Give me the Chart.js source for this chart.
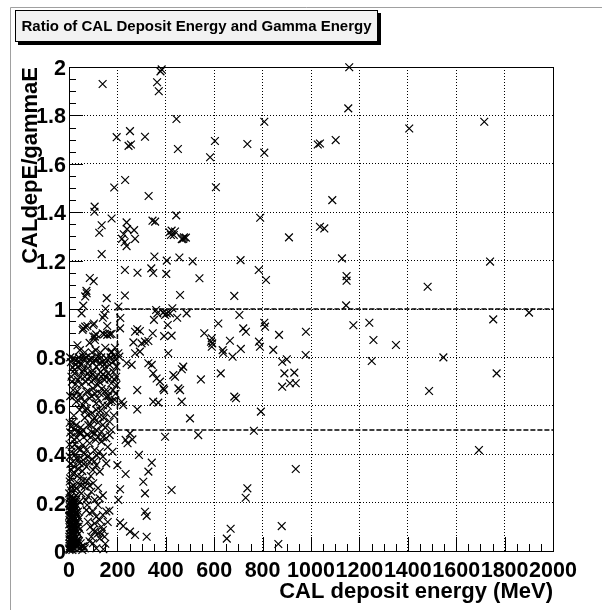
<!DOCTYPE html>
<html>
<head>
<meta charset="utf-8">
<script src="https://cdn.jsdelivr.net/npm/chart.js@4.4.1/dist/chart.umd.min.js"></script>
<style>
html,body{margin:0;padding:0;background:#fff;}
#wrap{width:602px;height:610px;}
canvas{display:block;}
</style>
</head>
<body>
<div id="wrap"><canvas id="c" width="602" height="610"></canvas></div>
<script>
// ---------- text ----------
const chartTitle = "Ratio of CAL Deposit Energy and Gamma Energy";
const xAxisTitle = "CAL deposit energy (MeV)";
const yAxisTitle = "CALdepE/gammaE";

// ---------- ticks ----------
const xTickValues = [0, 200, 400, 600, 800, 1000, 1200, 1400, 1600, 1800, 2000];
const xTickLabels = ["0", "200", "400", "600", "800", "1000", "1200", "1400", "1600", "1800", "2000"];
const yTickValues = [0, 0.2, 0.4, 0.6, 0.8, 1, 1.2, 1.4, 1.6, 1.8, 2];
const yTickLabels = ["0", "0.2", "0.4", "0.6", "0.8", "1", "1.2", "1.4", "1.6", "1.8", "2"];

// ---------- cut lines (dashed) ----------
const cutVerticalX = [200, 200];
const cutVerticalY = [0.5, 1];
const cutUpperX = [200, 2000];
const cutUpperY = [1, 1];
const cutLowerX = [200, 2000];
const cutLowerY = [0.5, 0.5];

// ---------- data: [CAL deposit energy (MeV), CALdepE/gammaE] ----------
const highRatioPoints = [
[139,1.93],[383,1.99],[378,1.982],[364,1.937],[371,1.9],[444,1.785],[197,1.71],[252,1.735],[246,1.674],[256,1.68],
[314,1.712],[450,1.661],[187,1.502],[232,1.533],[329,1.467],[106,1.423],[105,1.402],[135,1.346],[125,1.315],[176,1.374],
[238,1.358],[219,1.29],[226,1.309],[230,1.276],[238,1.26],[240,1.33],[269,1.326],[273,1.29],[345,1.365],[356,1.361],
[443,1.387],[415,1.317],[424,1.324],[433,1.306],[421,1.306],[438,1.32],[472,1.29],[483,1.295],[135,1.227],[353,1.217],
[404,1.2],[456,1.213],[511,1.197],[231,1.161],[283,1.15],[340,1.168],[348,1.149],[402,1.145],[539,1.127],[86,1.128],
[102,1.115],[72,1.075],[73,1.065],[67,1.052],[59,1.014],[52,0.982],[156,1.045],[231,1.056],[459,1.058],[151,1.001],
[146,0.975],[140,0.964],[204,1.01],[212,0.963],[360,0.996],[365,0.982],[390,0.986],[404,0.982],[397,0.975],[427,1.003],
[417,0.982],[447,0.964],[486,0.982],[351,0.955],[408,0.934]
];

const highEnergyPoints = [
[1158,1.999],[1154,1.829],[807,1.774],[603,1.694],[737,1.682],[583,1.627],[807,1.646],[1028,1.68],[1037,1.684],[1102,1.698],
[607,1.503],[1088,1.45],[790,1.377],[1037,1.34],[1055,1.333],[909,1.296],[475,1.296],[466,1.289],[709,1.202],[1128,1.209],
[784,1.161],[814,1.12],[1147,1.136],[1147,1.117],[683,1.054],[1145,1.015],[1406,1.746],[1716,1.774],[1740,1.196],[1482,1.092],
[704,0.975],[617,0.94],[720,0.92],[731,0.906],[807,0.943],[810,0.927],[559,0.9],[590,0.879],[587,0.865],[592,0.858],
[590,0.844],[665,0.869],[868,0.893],[979,0.906],[785,0.865],[789,0.844],[635,0.83],[638,0.818],[710,0.835],[844,0.831],
[676,0.803],[978,0.81],[881,0.782],[900,0.792],[890,0.734],[931,0.737],[881,0.679],[913,0.693],[937,0.693],[627,0.734],
[545,0.709],[683,0.638],[690,0.631],[793,0.576],[500,0.548],[764,0.497],[534,0.479],[937,0.339],[737,0.259],[730,0.22],
[668,0.092],[652,0.051],[879,0.103],[865,0.029],
[1175,0.933],[1241,0.943],[1258,0.872],[1251,0.785],[1351,0.851],[1753,0.957],[1901,0.985],[1547,0.8],[1767,0.734],[1488,0.661],[1694,0.417]
];

const midEnergyPoints = [
[282,0.916],[293,0.909],[273,0.906],[346,0.9],[393,0.888],[424,0.89],[211,0.92],[266,0.862],[300,0.858],[314,0.865],
[328,0.868],[293,0.824],[273,0.817],[410,0.817],[204,0.817],[208,0.803],[328,0.776],[342,0.769],[348,0.734],[362,0.713],
[376,0.7],[390,0.672],[238,0.776],[259,0.769],[431,0.727],[438,0.72],[472,0.762],[466,0.751],[452,0.672],[459,0.665],
[282,0.665],[393,0.665],[218,0.617],[224,0.603],[282,0.585],[348,0.617],[369,0.613],[466,0.617],[252,0.486],[234,0.459],
[262,0.461],[242,0.445],[397,0.472],[289,0.397],[342,0.365],[328,0.328],[200,0.355],[234,0.318],[307,0.286],[314,0.238],
[211,0.255],[204,0.211],[424,0.252],[314,0.162],[321,0.145],[211,0.117],[224,0.103],[252,0.08],[273,0.066],[321,0.059]
];

const lowEnergyUpperPoints = [
[59,0.92],[67,0.927],[76,0.93],[103,0.94],[158,0.93],[112,0.895],[107,0.886],[139,0.9],[158,0.893],[176,0.897],
[56,0.913],[100,0.934],[145,0.895],[169,0.895],[100,0.886],[107,0.872],[176,0.824],
[17,0.796],[30,0.789],[44,0.782],[58,0.803],[78,0.775],[92,0.796],[106,0.789],[120,0.803],[127,0.775],
[140,0.782],[154,0.796],[168,0.769],[182,0.782],[189,0.803],[37,0.762],[78,0.755],[113,0.762],[147,0.755],[23,0.748],
[196,0.762],[5,0.8],[65,0.82],[110,0.83],[150,0.84],[35,0.85],[85,0.86],[175,0.82],
[10,0.72],[23,0.734],[37,0.707],[51,0.686],[65,0.72],[78,0.734],[92,0.7],[106,0.71],[120,0.686],[134,0.72],
[147,0.707],[161,0.734],[175,0.693],[189,0.707],[17,0.665],[44,0.645],[72,0.658],[99,0.672],[127,0.652],[154,0.638],
[182,0.665],[30,0.617],[58,0.603],[85,0.631],[113,0.61],[140,0.603],[168,0.617],[189,0.624],[196,0.686],[5,0.64],
[160,0.66],[100,0.745],[60,0.75],[130,0.74],
[8,0.78],[15,0.76],[27,0.77],[40,0.8],[50,0.77],[62,0.79],[70,0.8],[85,0.79],[98,0.78],[116,0.79],
[133,0.8],[145,0.77],[160,0.79],[172,0.8],[193,0.79],[12,0.7],[28,0.69],[45,0.72],[55,0.74],[70,0.7],
[85,0.72],[97,0.73],[112,0.72],[125,0.7],[140,0.73],[152,0.72],[168,0.71],[183,0.74],[195,0.72],[20,0.64],
[35,0.66],[50,0.63],[65,0.62],[80,0.66],[93,0.64],[108,0.65],[120,0.63],[135,0.67],[148,0.66],[163,0.64],
[178,0.62],[192,0.65],[45,0.83],[95,0.82],[130,0.82],[190,0.84]
];

const lowEnergyMiddlePoints = [
[10,0.514],[23,0.5],[37,0.493],[51,0.486],[58,0.5],[78,0.562],[99,0.541],[113,0.583],[127,0.555],[140,0.521],
[154,0.569],[168,0.534],[113,0.5],[134,0.493],[44,0.583],[72,0.59],[3,0.53],[185,0.56],[90,0.52],[160,0.6],[20,0.56],
[15,0.53],[30,0.52],[48,0.51],[65,0.55],[80,0.52],[95,0.57],[105,0.55],[120,0.53],[130,0.58],[145,0.55],
[60,0.47],[75,0.48],[95,0.49],[110,0.46],[140,0.47],[150,0.51],[175,0.5],[30,0.47],[5,0.49],[70,0.58],
[10,0.472],[23,0.459],[37,0.424],[58,0.438],[72,0.417],[85,0.445],[106,0.486],[120,0.472],[134,0.452],[154,0.466],
[168,0.479],[106,0.417],[127,0.41],[10,0.41],[44,0.49],[160,0.43],[2,0.44],[90,0.47],[180,0.41],
[3,0.39],[17,0.369],[30,0.383],[44,0.362],[58,0.376],[72,0.348],[85,0.369],[99,0.335],[113,0.355],[127,0.328],
[23,0.321],[51,0.307],[10,0.335],[154,0.362],[140,0.39],[65,0.4],[37,0.34],[90,0.31],[6,0.36],[115,0.395],
[5,0.3],[14,0.32],[20,0.35],[27,0.4],[34,0.31],[40,0.38],[48,0.42],[55,0.33],[62,0.36],[78,0.39],
[95,0.38],[105,0.37],[12,0.43],[25,0.44],[50,0.27],[18,0.27],[30,0.26],[75,0.29],[100,0.28],[8,0.25],
[3,0.287],[10,0.266],[23,0.252],[37,0.28],[51,0.238],[65,0.266],[78,0.225],[92,0.245],[106,0.211],[127,0.218],
[17,0.218],[44,0.204],[1,0.238],[58,0.29],[85,0.27],[120,0.26],[140,0.23],[30,0.23],[70,0.21]
];

const lowEnergyLowPoints = [
[2,0.004],[5,0.011],[9,0.018],[14,0.004],[19,0.025],[3,0.032],[8,0.04],[12,0.045],[17,0.052],[23,0.011],
[28,0.03],[1,0.059],[6,0.066],[11,0.073],[15,0.08],[21,0.062],[26,0.087],[33,0.018],[37,0.045],[4,0.094],
[9,0.1],[13,0.107],[18,0.114],[24,0.1],[30,0.121],[2,0.128],[7,0.135],[12,0.142],[16,0.149],[22,0.128],
[27,0.156],[35,0.1],[40,0.07],[4,0.163],[10,0.169],[14,0.176],[19,0.183],[25,0.169],[31,0.19],[1,0.197],
[6,0.204],[11,0.19],[17,0.211],[23,0.2],[3,0.218],[8,0.225],[44,0.011],[48,0.032],[52,0.018],[42,0.135],
[38,0.163],[29,0.211],[1,0.145],[3,0.07],[6,0.125],[10,0.05],[20,0.14],[15,0.03],[34,0.15],[45,0.09],
[55,0.004],[60,0.02],[7,0.17],[26,0.12],[16,0.09],
[0,0.01],[4,0.02],[7,0.008],[11,0.03],[16,0.015],[20,0.04],[25,0.05],[31,0.06],[36,0.03],[2,0.048],
[6,0.085],[10,0.115],[14,0.06],[18,0.095],[22,0.11],[27,0.135],[33,0.08],[1,0.11],[5,0.15],[9,0.16],
[13,0.13],[17,0.17],[21,0.19],[26,0.18],[30,0.16],[36,0.12],[41,0.04],[3,0.185],[8,0.205],[12,0.215],
[1,0.17],[15,0.2],[20,0.075],[24,0.035],[29,0.09],[33,0.045],[39,0.1],[5,0.03],[12,0.09],[8,0.14],
[72,0.169],[85,0.156],[99,0.163],[113,0.142],[127,0.128],[140,0.149],[154,0.163],[78,0.121],[106,0.114],[134,0.1],
[99,0.087],[120,0.073],[92,0.059],[106,0.08],[140,0.087],[127,0.052],[99,0.032],[147,0.059],[113,0.011],[65,0.011],
[85,0.04],[150,0.03],[75,0.19],[120,0.19],[160,0.12],[88,0.1],[135,0.07],[167,0.167],[142,0.007]
];

// ---------- build chart ----------
const allPoints = [].concat(highRatioPoints, highEnergyPoints, midEnergyPoints,
  lowEnergyUpperPoints, lowEnergyMiddlePoints, lowEnergyLowPoints)
  .map(p => ({x: p[0], y: p[1]}));

const zip = (xs, ys) => xs.map((v, i) => ({x: v, y: ys[i]}));

const FONT = '"Liberation Sans", Arial, Helvetica, sans-serif';

const decorPlugin = {
  id: 'decor',
  beforeDraw(chart) {
    const ctx = chart.ctx;
    ctx.save();
    ctx.fillStyle = '#ffffff';
    ctx.fillRect(0, 0, chart.width, chart.height);
    ctx.strokeStyle = '#a0a0a0';
    ctx.lineWidth = 1;
    ctx.beginPath();
    ctx.moveTo(10.5, chart.height);
    ctx.lineTo(10.5, 7.5);
    ctx.lineTo(chart.width, 7.5);
    ctx.stroke();
    ctx.restore();
  },
  afterDraw(chart) {
    const {ctx, chartArea: a, scales: {x, y}} = chart;
    ctx.save();
    ctx.strokeStyle = '#000';
    ctx.lineWidth = 1;
    ctx.strokeRect(Math.round(a.left) + 0.5, Math.round(a.top) + 0.5,
                   Math.round(a.right - a.left), Math.round(a.bottom - a.top));
    ctx.beginPath();
    for (let i = 0; i <= 40; i++) {
      const px = Math.round(x.getPixelForValue(i * 50)) + 0.5;
      const len = (i % 4 === 0) ? 14 : 7;
      ctx.moveTo(px, a.bottom);
      ctx.lineTo(px, a.bottom - len);
    }
    for (let i = 0; i <= 40; i++) {
      const py = Math.round(y.getPixelForValue(i * 0.05)) + 0.5;
      const len = (i % 4 === 0) ? 14 : 7;
      ctx.moveTo(a.left, py);
      ctx.lineTo(a.left + len, py);
    }
    ctx.stroke();
    const bx = 15, by = 10, bw = 363, bh = 32;
    ctx.fillStyle = '#000';
    ctx.fillRect(bx + 3, by + 3, bw, bh);
    ctx.fillStyle = '#f2f2f2';
    ctx.fillRect(bx, by, bw, bh);
    ctx.strokeStyle = '#000';
    ctx.strokeRect(bx + 0.5, by + 0.5, bw - 1, bh - 1);
    ctx.fillStyle = '#000';
    ctx.font = 'bold 15px ' + FONT;
    ctx.textAlign = 'center';
    ctx.textBaseline = 'middle';
    ctx.fillText(chartTitle, bx + bw / 2, by + bh / 2 + 0.5);
    ctx.restore();
  }
};

const dashStyle = {
  type: 'line', showLine: true, borderColor: '#000', borderWidth: 1.5,
  borderDash: [5, 2], pointRadius: 0, fill: false, tension: 0, clip: false
};

new Chart(document.getElementById('c'), {
  type: 'scatter',
  data: {
    datasets: [
      Object.assign({data: zip(cutVerticalX, cutVerticalY)}, dashStyle),
      Object.assign({data: zip(cutUpperX, cutUpperY)}, dashStyle),
      Object.assign({data: zip(cutLowerX, cutLowerY)}, dashStyle),
      {
        data: allPoints,
        pointStyle: 'crossRot',
        pointRadius: 5.5,
        pointBorderWidth: 1.2,
        borderColor: '#000',
        backgroundColor: '#000',
        showLine: false,
        clip: false
      }
    ]
  },
  options: {
    responsive: false,
    devicePixelRatio: 1,
    animation: false,
    events: [],
    layout: {padding: {left: 0, top: 67, right: 49, bottom: 0}},
    plugins: {legend: {display: false}, tooltip: {enabled: false}, title: {display: false}},
    scales: {
      x: {
        type: 'linear', position: 'bottom', min: 0, max: 2000,
        afterBuildTicks: s => { s.ticks = xTickValues.map(v => ({value: v})); },
        afterFit: s => { s.height = 59; },
        ticks: {
          autoSkip: false, maxRotation: 0, minRotation: 0, padding: 7, color: '#000',
          font: {family: FONT, weight: 'bold', size: 21.5},
          callback: (v, i) => xTickLabels[i]
        },
        grid: {color: '#000', lineWidth: 1, drawTicks: false, tickLength: 0},
        border: {display: false, dash: [1, 2]},
        title: {
          display: true, text: xAxisTitle, align: 'end', color: '#000',
          font: {family: FONT, weight: 'bold', size: 22, lineHeight: 1.2},
          padding: {top: 0, bottom: 5}
        }
      },
      y: {
        type: 'linear', position: 'left', min: 0, max: 2,
        afterBuildTicks: s => { s.ticks = yTickValues.map(v => ({value: v})); },
        afterFit: s => { s.width = 69; },
        ticks: {
          autoSkip: false, padding: 3, labelOffset: 2, color: '#000',
          font: {family: FONT, weight: 'bold', size: 21.5},
          callback: (v, i) => yTickLabels[i]
        },
        grid: {color: '#000', lineWidth: 1, drawTicks: false, tickLength: 0},
        border: {display: false, dash: [1, 2]},
        title: {
          display: true, text: yAxisTitle, align: 'end', color: '#000',
          font: {family: FONT, weight: 'bold', size: 22, lineHeight: 1.2},
          padding: {top: 18, bottom: 0}
        }
      }
    }
  },
  plugins: [decorPlugin]
});
</script>
</body>
</html>
